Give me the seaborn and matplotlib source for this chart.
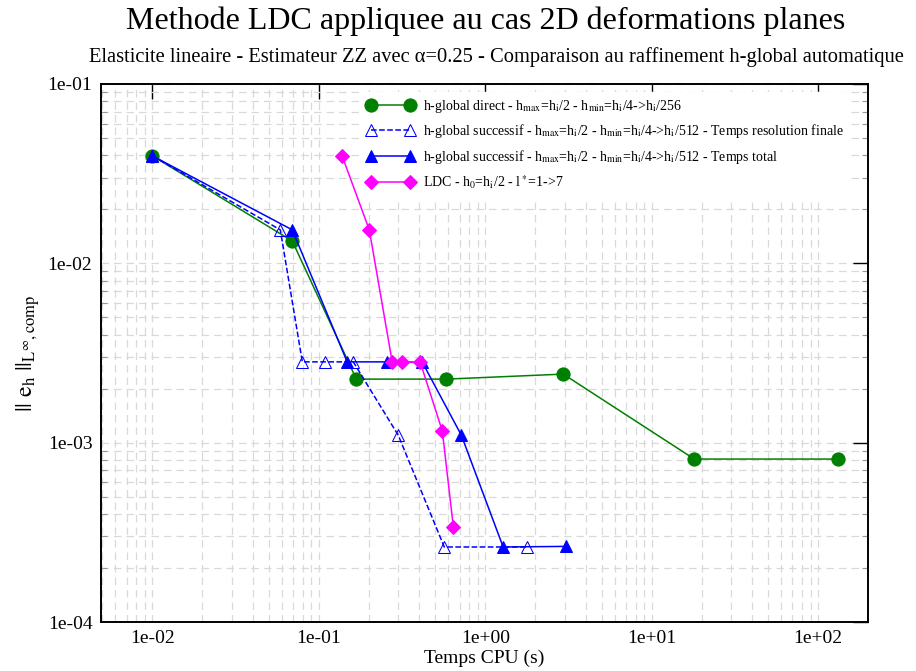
import numpy as np
import pandas as pd
import matplotlib
matplotlib.use("Agg")
import matplotlib.pyplot as plt
import matplotlib.ticker as mticker
import seaborn as sns

sns.set_theme(style="white")
plt.rcParams["font.family"] = ["Liberation Serif", "DejaVu Serif"]
plt.rcParams["mathtext.fontset"] = "stix"
plt.rcParams["text.color"] = "black"
plt.rcParams["axes.labelcolor"] = "black"

# --------------------------------------------------
# data (CPU time [s], error)
# --------------------------------------------------
direct_t = [0.01, 0.0693, 0.168, 0.583, 2.94, 18.0, 132.0]
direct_e = [0.0397, 0.0133, 0.00226, 0.00226, 0.00241, 0.00081, 0.00081]

succ_final_t = [0.01, 0.0587, 0.0796, 0.109, 0.161, 0.30, 0.567, 1.79]
succ_final_e = [0.0397, 0.01535, 0.00282, 0.00282, 0.00282, 0.00110, 0.000262, 0.000262]

succ_total_t = [0.01, 0.0693, 0.148, 0.258, 0.419, 0.718, 1.28, 3.06]
succ_total_e = [0.0397, 0.01535, 0.00282, 0.00282, 0.00280, 0.00110, 0.000262, 0.000264]

ldc_t = [0.138, 0.201, 0.276, 0.318, 0.407, 0.552, 0.643]
ldc_e = [0.0397, 0.01535, 0.00282, 0.00282, 0.00280, 0.00116, 0.000338]

labels = [
    r"h-global direct - h$_{\mathrm{max}}$=h$_{\mathrm{i}}$/2 - h$_{\mathrm{min}}$=h$_{\mathrm{i}}$/4->h$_{\mathrm{i}}$/256",
    r"h-global successif - h$_{\mathrm{max}}$=h$_{\mathrm{i}}$/2 - h$_{\mathrm{min}}$=h$_{\mathrm{i}}$/4->h$_{\mathrm{i}}$/512 - Temps resolution finale",
    r"h-global successif - h$_{\mathrm{max}}$=h$_{\mathrm{i}}$/2 - h$_{\mathrm{min}}$=h$_{\mathrm{i}}$/4->h$_{\mathrm{i}}$/512 - Temps total",
    r"LDC - h$_0$=h$_{\mathrm{i}}$/2 - l$^*$=1->7",
]

fig = plt.figure(figsize=(9.16, 6.71), dpi=100)
ax = fig.add_axes([0.110, 0.073, 0.838, 0.802])
ax.set_xscale("log")
ax.set_yscale("log")

series = [
    (direct_t, direct_e, dict(color="#008000", marker="o", markersize=9.5, linestyle="-",
                             markerfacecolor="#008000", markeredgecolor="#008000")),
    (succ_final_t, succ_final_e, dict(color="#0000ff", marker="^", markersize=9, linestyle="--",
                                      markerfacecolor="none", markeredgecolor="#0000ff")),
    (succ_total_t, succ_total_e, dict(color="#0000ff", marker="^", markersize=9, linestyle="-",
                                      markerfacecolor="#0000ff", markeredgecolor="#0000ff")),
    (ldc_t, ldc_e, dict(color="#ff00ff", marker="D", markersize=7, linestyle="-",
                        markerfacecolor="#ff00ff", markeredgecolor="#ff00ff")),
]

for (t, e, style), lab in zip(series, labels):
    df = pd.DataFrame({"t": t, "e": e})
    sns.lineplot(data=df, x="t", y="e", ax=ax, sort=False, estimator=None,
                 linewidth=1.1, label=lab, **style)

ax.set_xlim(0.0049, 200)
ax.set_ylim(1e-4, 1e-1)

# ticks
ax.xaxis.set_major_locator(mticker.LogLocator(base=10, numticks=10))
ax.yaxis.set_major_locator(mticker.LogLocator(base=10, numticks=10))
ax.xaxis.set_minor_locator(mticker.LogLocator(base=10, subs=np.arange(2, 10), numticks=20))
ax.yaxis.set_minor_locator(mticker.LogLocator(base=10, subs=np.arange(2, 10), numticks=20))
fmt = mticker.FuncFormatter(lambda v, p: "%.0e" % v)
ax.xaxis.set_major_formatter(fmt)
ax.yaxis.set_major_formatter(fmt)
ax.xaxis.set_minor_formatter(mticker.NullFormatter())
ax.yaxis.set_minor_formatter(mticker.NullFormatter())
ax.tick_params(axis="both", which="major", direction="in", length=11, width=1,
               top=True, right=True, labelsize=14, colors="black", pad=6)
ax.tick_params(axis="x", which="minor", length=0)
ax.tick_params(axis="y", which="minor", direction="in", length=4, width=0.8,
               left=True, right=True, color="#999999")

ax.grid(True, which="both", linestyle=(0, (6, 4)), color="#d9d9d9", linewidth=0.9)
ax.set_axisbelow(True)
for sp in ax.spines.values():
    sp.set_color("black")
    sp.set_linewidth(1.4)

ax.set_xlabel("Temps CPU (s)", fontsize=14, labelpad=2)
ax.set_ylabel(r"$||\ \mathrm{e}_{\mathrm{h}}\ ||_{\mathrm{L}^{\infty}\mathrm{,comp}}$", fontsize=17, labelpad=4)

leg = ax.legend(loc="upper left", bbox_to_anchor=(0.34, 0.985), frameon=True,
                fontsize=10, numpoints=2, handlelength=3.4, handletextpad=0.6,
                labelspacing=0.55, borderaxespad=0, fancybox=False)
leg.get_frame().set_facecolor("white")
leg.get_frame().set_edgecolor("white")
leg.get_frame().set_alpha(1.0)

fig.text(0.53, 0.968, "Methode LDC appliquee au cas 2D deformations planes",
         ha="center", va="center", fontsize=23)
fig.text(0.5415, 0.915, "Elasticite lineaire - Estimateur ZZ avec \u03b1=0.25 - Comparaison au raffinement h-global automatique",
         ha="center", va="center", fontsize=14.8)

fig.savefig("out.png", dpi=100, facecolor="white")
